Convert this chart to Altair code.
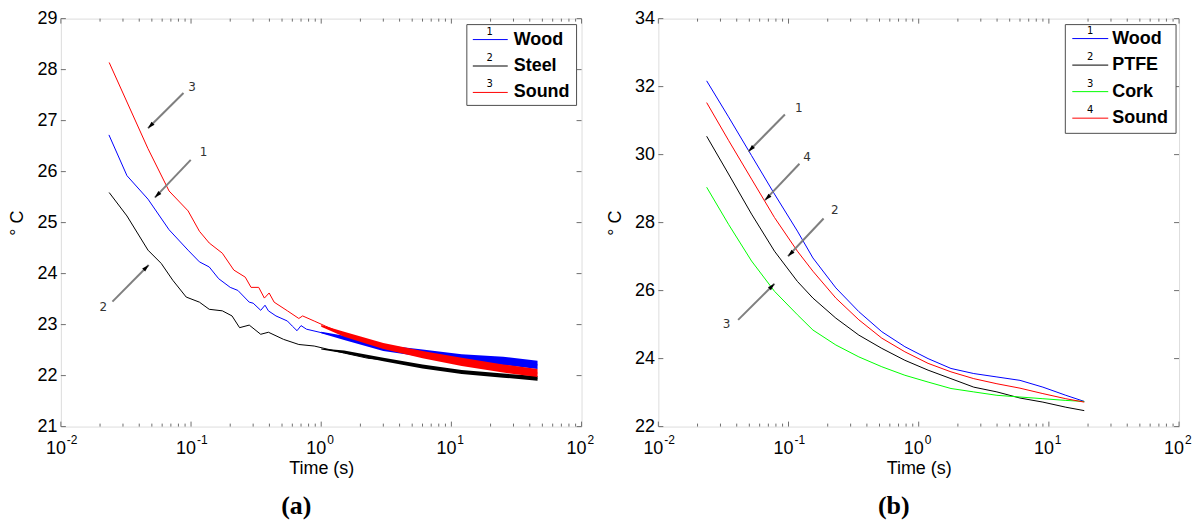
import altair as alt
import pandas as pd

W, H = 522, 409
FONT = "Liberation Sans"
GRAY = "#6e6e6e"

x_major = [0.01, 0.1, 1, 10, 100]
x_major_base = ["10", "10", "10", "10", "10"]
x_major_exp = ["-2", "-1", "0", "1", "2"]
x_minor = [0.02, 0.03, 0.04, 0.05, 0.06, 0.07, 0.08, 0.09,
           0.2, 0.3, 0.4, 0.5, 0.6, 0.7, 0.8, 0.9,
           2, 3, 4, 5, 6, 7, 8, 9,
           20, 30, 40, 50, 60, 70, 80, 90]

# ---------------- Panel (a) ----------------
a_names = ["Wood", "Steel", "Sound"]
a_colors = ["#0000ff", "#000000", "#ff0000"]
a_y_ticks = [21, 22, 23, 24, 25, 26, 27, 28, 29]

a_wood_t = [0.0234, 0.0322, 0.0467, 0.0678, 0.0948, 0.116, 0.138, 0.163, 0.200, 0.229,
            0.280, 0.300, 0.343, 0.370, 0.393, 0.449, 0.550, 0.600, 0.652, 0.700, 0.771,
            1.01, 1.51, 2.98, 5.85, 11.5, 22.6, 45.9]
a_wood_T = [26.72, 25.92, 25.46, 24.86, 24.46, 24.23, 24.13, 23.90, 23.73, 23.67,
            23.44, 23.42, 23.28, 23.38, 23.27, 23.17, 23.07, 22.97, 22.88, 22.98, 22.91,
            22.84, 22.74, 22.54, 22.44, 22.34, 22.28, 22.21]

a_steel_t = [0.0235, 0.0322, 0.0467, 0.059, 0.0724, 0.0918, 0.116, 0.138, 0.174, 0.2065,
             0.236, 0.280, 0.343, 0.393, 0.514, 0.673, 0.883, 1.51, 2.28, 2.98, 5.85,
             11.5, 22.6, 45.9]
a_steel_T = [25.59, 25.13, 24.46, 24.20, 23.87, 23.54, 23.44, 23.30, 23.27, 23.17,
             22.94, 22.99, 22.81, 22.85, 22.71, 22.61, 22.58, 22.44, 22.34, 22.31, 22.18,
             22.08, 22.01, 21.95]

a_sound_t = [0.0235, 0.0467, 0.0678, 0.0949, 0.116, 0.138, 0.174, 0.213, 0.261, 0.289,
             0.331, 0.366, 0.398, 0.435, 0.550, 0.673, 0.720, 0.883, 1.08, 1.51, 2.28,
             2.98, 5.85, 11.5, 22.6, 45.9]
a_sound_T = [28.14, 26.45, 25.62, 25.23, 24.83, 24.60, 24.40, 24.07, 23.93, 23.73,
             23.73, 23.52, 23.62, 23.44, 23.27, 23.12, 23.17, 23.07, 22.97, 22.81, 22.68,
             22.58, 22.41, 22.28, 22.15, 22.05]

# noisy tails (min / max envelope)
a_band_t = [1.0, 1.5, 3, 6, 12, 25, 45.9]
a_wood_lo = [22.83, 22.70, 22.48, 22.37, 22.26, 22.21, 22.13]
a_wood_hi = [22.86, 22.78, 22.60, 22.51, 22.42, 22.37, 22.29]
a_steel_lo = [22.51, 22.44, 22.28, 22.14, 22.03, 21.96, 21.90]
a_steel_hi = [22.53, 22.49, 22.35, 22.22, 22.11, 22.04, 21.99]
a_sound_lo = [22.96, 22.76, 22.52, 22.34, 22.19, 22.06, 21.97]
a_sound_hi = [22.99, 22.86, 22.64, 22.48, 22.35, 22.22, 22.13]

a_arrow_label = ["3", "1", "2"]
a_arrow_t0 = [0.0875, 0.0995, 0.0249]
a_arrow_T0 = [27.54, 26.23, 23.45]
a_arrow_t1 = [0.0467, 0.0527, 0.0473]
a_arrow_T1 = [26.85, 25.49, 24.17]
a_arrow_tl = [0.1016, 0.1245, 0.0212]
a_arrow_Tl = [27.66, 26.38, 23.35]
a_arrow_angle = [225, 225, 45]

# ---------------- Panel (b) ----------------
b_names = ["Wood", "PTFE", "Cork", "Sound"]
b_colors = ["#0000ff", "#000000", "#00ff00", "#ff0000"]
b_y_ticks = [22, 24, 26, 28, 30, 32, 34]
b_t = [0.0235, 0.0346, 0.052, 0.078, 0.117, 0.154, 0.231, 0.347, 0.521, 0.783,
       1.18, 1.77, 2.65, 3.99, 6.0, 9.0, 13.5, 18.7]
b_wood_T = [32.17, 31.11, 29.97, 28.84, 27.75, 26.96, 26.08, 25.38, 24.79, 24.35,
            24.00, 23.71, 23.56, 23.46, 23.36, 23.16, 22.92, 22.74]
b_ptfe_T = [30.54, 29.43, 28.25, 27.16, 26.27, 25.78, 25.19, 24.69, 24.30, 23.95,
            23.66, 23.41, 23.16, 23.02, 22.84, 22.72, 22.57, 22.47]
b_cork_T = [29.04, 27.95, 26.87, 25.98, 25.29, 24.84, 24.40, 24.05, 23.76, 23.51,
            23.31, 23.12, 23.02, 22.92, 22.87, 22.82, 22.77, 22.74]
b_sound_T = [31.53, 30.42, 29.28, 28.15, 27.16, 26.57, 25.78, 25.14, 24.60, 24.20,
             23.86, 23.61, 23.41, 23.26, 23.13, 22.97, 22.82, 22.72]

b_arrow_label = ["1", "4", "2", "3"]
b_arrow_t0 = [0.0938, 0.1213, 0.186, 0.041]
b_arrow_T0 = [31.18, 29.73, 28.12, 25.14]
b_arrow_t1 = [0.0492, 0.0659, 0.0991, 0.078]
b_arrow_T1 = [30.09, 28.66, 27.01, 26.20]
b_arrow_tl = [0.1197, 0.139, 0.2264, 0.0334]
b_arrow_Tl = [31.36, 29.92, 28.37, 25.01]
b_arrow_angle = [225, 225, 225, 45]

ONE = pd.DataFrame({"k": [0]})


def make_panel(names, colors, series, bands, ydom, yticks, arrows, caption, legend_geom):
    xs = alt.Scale(type="log", domain=[0.01, 100], nice=False)
    ys = alt.Scale(domain=ydom, nice=False, zero=False)
    cs = alt.Scale(domain=names, range=colors)

    xaxis = alt.Axis(values=x_major, labels=False, title="Time (s)",
                     grid=False, ticks=False, domain=False, titleFont=FONT, titleFontSize=18,
                     titleFontWeight="normal", titleColor="black", titlePadding=33)
    yaxis = alt.Axis(values=yticks, format="d", title="\u00b0 C", grid=False, ticks=False,
                     domain=False, labelFont=FONT, labelFontSize=18, labelColor="black",
                     labelPadding=4, labelFlush=False, labelOverlap=False, titleFont=FONT,
                     titleFontSize=18, titleFontWeight="normal", titleColor="black",
                     titlePadding=10)

    def X(f):
        return alt.X(f, scale=xs, axis=xaxis, title="Time (s)")

    def Y(f, **kw):
        return alt.Y(f, scale=ys, axis=yaxis, title="\u00b0 C", **kw)

    rows = []
    for name, (ts, Ts) in zip(names, series):
        for t, T in zip(ts, Ts):
            rows.append({"series": name, "t": t, "T": T})
    df = pd.DataFrame(rows)

    layers = []
    layers.append(alt.Chart(df).mark_line(strokeWidth=1).encode(
        x=X("t:Q"), y=Y("T:Q"),
        color=alt.Color("series:N", scale=cs, legend=None),
        order="t:Q"))

    # bands for the noisy parts
    if bands is not None:
        brows = []
        bt, blist = bands
        for name, (lo, hi) in zip(names, blist):
            for t, l, h in zip(bt, lo, hi):
                brows.append({"series": name, "t": t, "lo": l, "hi": h})
        bdf = pd.DataFrame(brows)
        layers.append(alt.Chart(bdf).mark_area(opacity=1).encode(
            x=X("t:Q"), y=Y("lo:Q", stack=None), y2="hi:Q",
            color=alt.Color("series:N", scale=cs, legend=None),
            detail="series:N"))

    # inward ticks (box style)
    xmaj = pd.DataFrame({"v": x_major, "b": x_major_base, "e": x_major_exp})
    xmin = pd.DataFrame({"v": x_minor})
    ytk = pd.DataFrame({"v": yticks})
    for d, ln in ((xmaj, 5), (xmin, 3)):
        layers.append(alt.Chart(d).mark_rule(color=GRAY, strokeWidth=1).encode(
            x=X("v:Q"), y=alt.value(H), y2=alt.value(H - ln)))
        layers.append(alt.Chart(d).mark_rule(color=GRAY, strokeWidth=1).encode(
            x=X("v:Q"), y=alt.value(0), y2=alt.value(ln)))
    layers.append(alt.Chart(ytk).mark_rule(color=GRAY, strokeWidth=1).encode(
        y=Y("v:Q"), x=alt.value(0), x2=alt.value(5)))
    layers.append(alt.Chart(ytk).mark_rule(color=GRAY, strokeWidth=1).encode(
        y=Y("v:Q"), x=alt.value(W - 5), x2=alt.value(W)))
    # decade labels 10^k (base and raised exponent)
    layers.append(alt.Chart(xmaj).mark_text(
        font=FONT, fontSize=18, align="right", baseline="middle", color="black", dx=5
    ).encode(x=X("v:Q"), y=alt.value(H + 22), text="b:N"))
    layers.append(alt.Chart(xmaj).mark_text(
        font=FONT, fontSize=12, align="left", baseline="middle", color="black", dx=6
    ).encode(x=X("v:Q"), y=alt.value(H + 13), text="e:N"))

    # arrows
    lab, t0, T0, t1, T1, tl, Tl, ang = arrows
    adf = pd.DataFrame({"lab": lab, "t0": t0, "T0": T0, "t1": t1, "T1": T1,
                        "tl": tl, "Tl": Tl, "ang": ang})
    layers.append(alt.Chart(adf).mark_rule(color="#7f7f7f", strokeWidth=2).encode(
        x=X("t0:Q"), x2="t1:Q", y=Y("T0:Q"), y2="T1:Q"))
    layers.append(alt.Chart(adf).mark_point(
        shape="M0,0L-0.45,1.5L0.45,1.5Z", filled=True, color="black", size=90, opacity=1
    ).encode(
        x=X("t1:Q"), y=Y("T1:Q"),
        angle=alt.Angle("ang:Q", scale=None)))
    layers.append(alt.Chart(adf).mark_text(font="DejaVu Sans", fontSize=12, color="#333333").encode(
        x=X("tl:Q"), y=Y("Tl:Q"), text="lab:N"))

    # legend box (drawn as marks, MATLAB style)
    bx0, bx1, by0, by1, lx0, lx1, tx, nx, ry0, rdy = legend_geom
    layers.append(alt.Chart(ONE).mark_rect(fill="white", stroke="#4d4d4d", strokeWidth=1).encode(
        x=alt.value(bx0), x2=alt.value(bx1), y=alt.value(by0), y2=alt.value(by1)))
    for i, (n, c) in enumerate(zip(names, colors)):
        yy = ry0 + i * rdy
        layers.append(alt.Chart(ONE).mark_rule(stroke=c, color=c, strokeWidth=1).encode(
            x=alt.value(lx0), x2=alt.value(lx1), y=alt.value(yy)))
        layers.append(alt.Chart(ONE).mark_text(
            text=n, font=FONT, fontWeight="bold", fontSize=18, align="left",
            baseline="middle", color="black").encode(x=alt.value(tx), y=alt.value(yy)))
        layers.append(alt.Chart(ONE).mark_text(
            text=str(i + 1), font="DejaVu Sans", fontSize=10, align="center",
            baseline="middle", color="black").encode(x=alt.value(nx), y=alt.value(yy - 8)))

    return alt.layer(*layers).properties(
        width=W, height=H,
        title=alt.TitleParams(caption, orient="bottom", font="Liberation Serif",
                              fontSize=26, fontWeight="bold", color="black",
                              anchor="middle", dx=-25, offset=16))


pa = make_panel(
    a_names, a_colors,
    [(a_wood_t, a_wood_T), (a_steel_t, a_steel_T), (a_sound_t, a_sound_T)],
    (a_band_t, [(a_wood_lo, a_wood_hi), (a_steel_lo, a_steel_hi), (a_sound_lo, a_sound_hi)]),
    [21, 29], a_y_ticks,
    (a_arrow_label, a_arrow_t0, a_arrow_T0, a_arrow_t1, a_arrow_T1, a_arrow_tl, a_arrow_Tl,
     a_arrow_angle),
    "(a)",
    (407, 517, 6, 87, 413, 448, 454, 430, 21, 26.5))

pb = make_panel(
    b_names, b_colors,
    [(b_t, b_wood_T), (b_t, b_ptfe_T), (b_t, b_cork_T), (b_t, b_sound_T)],
    None,
    [22, 34], b_y_ticks,
    (b_arrow_label, b_arrow_t0, b_arrow_T0, b_arrow_t1, b_arrow_T1, b_arrow_tl, b_arrow_Tl,
     b_arrow_angle),
    "(b)",
    (408, 519, 6, 115, 415, 451, 455, 433, 20, 26.6))

chart = alt.hconcat(pa, pb, spacing=77, bounds="flush").resolve_scale(
    color="independent", x="independent", y="independent"
).properties(
    padding={"left": 0, "top": 0, "right": 2, "bottom": 0}
).configure_view(stroke=GRAY, strokeWidth=1).configure(background="white")

chart.save("out.html", embed_options={"renderer": "svg", "actions": False})
